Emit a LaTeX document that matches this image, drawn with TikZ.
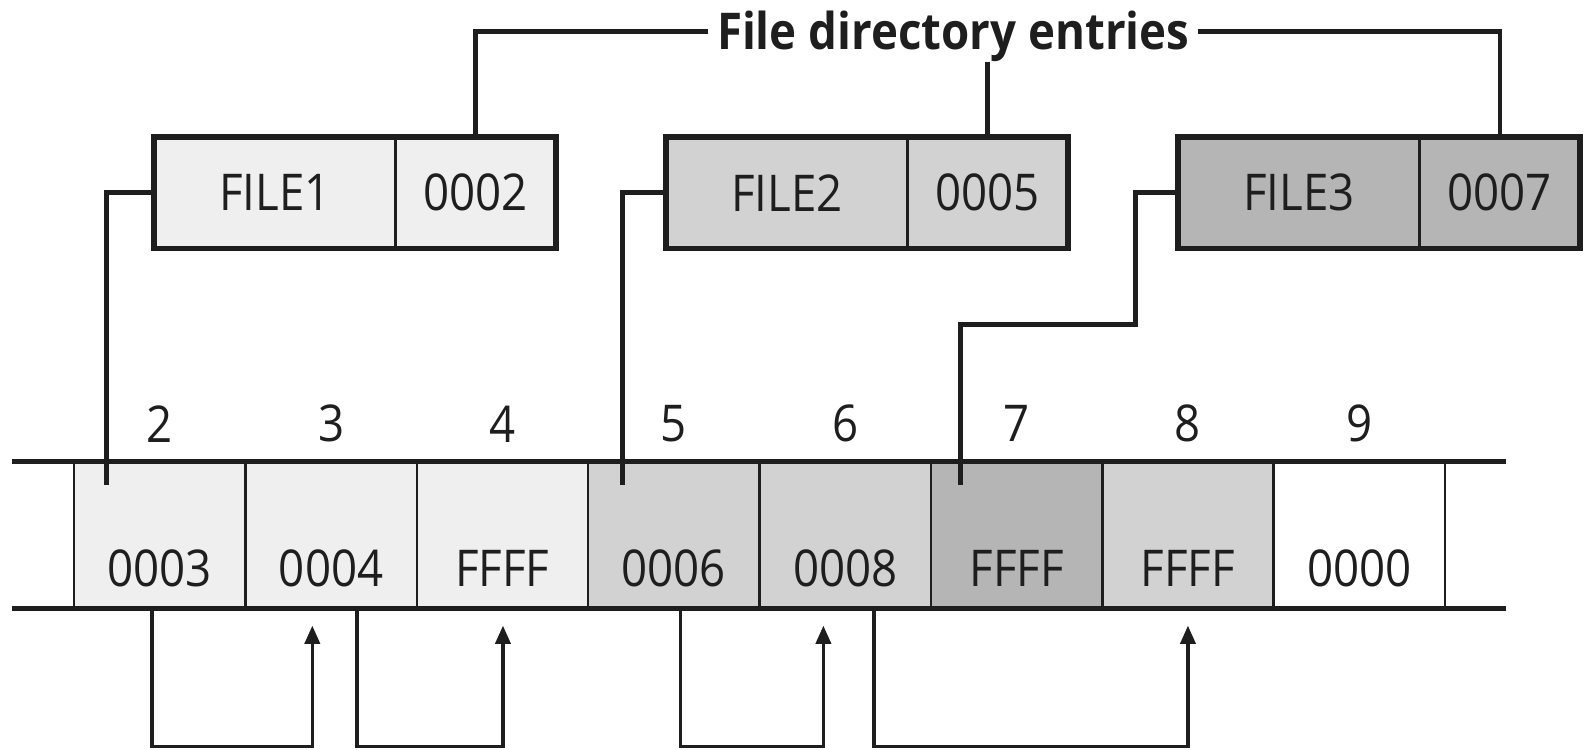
\documentclass[tikz,border=0pt]{standalone}
\usepackage{fontspec}
\setmainfont{Open Sans}[FakeStretch=0.9]
\usetikzlibrary{arrows.meta,calc}
\definecolor{lite}{HTML}{EFEFEF}
\definecolor{midg}{HTML}{D2D2D2}
\definecolor{darkg}{HTML}{B5B5B5}
\definecolor{ink}{HTML}{1E1E1E}
\begin{document}
\begin{tikzpicture}[x=0.5pt,y=-0.5pt,
  txt/.style={font=\fontsize{25}{30}\selectfont, text=ink},
  cell/.style={draw=ink, line width=1.25pt, minimum width=84.5pt, minimum height=72.5pt, inner sep=0pt, outer sep=0pt},
  val/.style={txt, inner sep=0pt},
  namebox/.style={draw=ink, line width=1.25pt, minimum width=119pt, minimum height=55pt, inner sep=0pt, outer sep=0pt, txt},
  numbox/.style={namebox, minimum width=79pt},
  border/.style={draw=ink, line width=2.8pt},
  rule/.style={draw=ink, line width=2.8pt},
  conn/.style={draw=ink, line width=2.2pt},
  link/.style={draw=ink, line width=1.65pt, -{Triangle[width=7.5pt,length=9pt]}},
]
\useasboundingbox (0,0) rectangle (1568,739);

% title
\node[txt, font=\fontsize{25}{30}\selectfont\bfseries, text height=17.5pt, text depth=0pt, inner xsep=4pt, inner ysep=6pt] (title) at (940,31) {File directory entries};

% directory entry boxes
\node[namebox, fill=lite] (f1) at (271,190) {FILE1};
\node[numbox, fill=lite, anchor=west] (n1) at (f1.east) {0002};
\draw[border] (f1.north west) rectangle (n1.south east);

\node[namebox, fill=midg] (f2) at (776,190) {FILE2};
\node[numbox, fill=midg, anchor=west] (n2) at (f2.east) {0005};
\draw[border] (f2.north west) rectangle (n2.south east);

\node[namebox, fill=darkg] (f3) at (1281,190) {FILE3};
\node[numbox, fill=darkg, anchor=west] (n3) at (f3.east) {0007};
\draw[border] (f3.north west) rectangle (n3.south east);

% table cells
\foreach \i/\x/\c/\v in {2/157.5/lite/0003, 3/326.5/lite/0004, 4/495.5/lite/FFFF,
    5/664.5/midg/0006, 6/833.5/midg/0008, 7/1002.5/darkg/FFFF,
    8/1171.5/midg/FFFF, 9/1340.5/white/0000}{
  \node[cell, fill=\c] (c\i) at (\x,527.5) {};
  \node[val] (v\i) at ($(c\i.center)+(0,33)$) {\v};
  \node[val] (i\i) at ($(c\i.north)+(0,-37)$) {\i};
}
\coordinate (tl) at (12,455);
\coordinate (tr) at (1485,455);
\coordinate (bl) at (12,600);
\coordinate (br) at (1485,600);
\draw[rule] (tl) -- (tr);
\draw[rule] (bl) -- (br);

% title connectors
\draw[conn] (title.west) -| (n1.north);
\draw[conn] (title.south -| n2.north) -- (n2.north);
\draw[conn] (title.east) -| (n3.north);

% entry to first cluster
\coordinate (e2) at ($(c2.north west)+(32,23)$);
\coordinate (e5) at ($(c5.north west)+(34,23)$);
\coordinate (e7) at ($(c7.north west)+(29,23)$);
\coordinate (k1) at (1120,320);
\draw[conn] (f1.west) -| (e2);
\draw[conn] (f2.west) -| (e5);
\draw[conn] (f3.west) -| (k1) -| (e7);

% FAT chain links
\draw[link] ($(c2.south)+(-7.5,0)$) -- ++(0,136) -| ($(c3.south)+(-18.5,17)$);
\draw[link] ($(c3.south)+(25.5,0)$) -- ++(0,136) -| ($(c4.south)+(0.5,17)$);
\draw[link] ($(c5.south)+(6.5,0)$) -- ++(0,136) -| ($(c6.south)+(-21.5,17)$);
\draw[link] ($(c6.south)+(28.5,0)$) -- ++(0,136) -| ($(c8.south)+(0,17)$);
\end{tikzpicture}
\end{document}
